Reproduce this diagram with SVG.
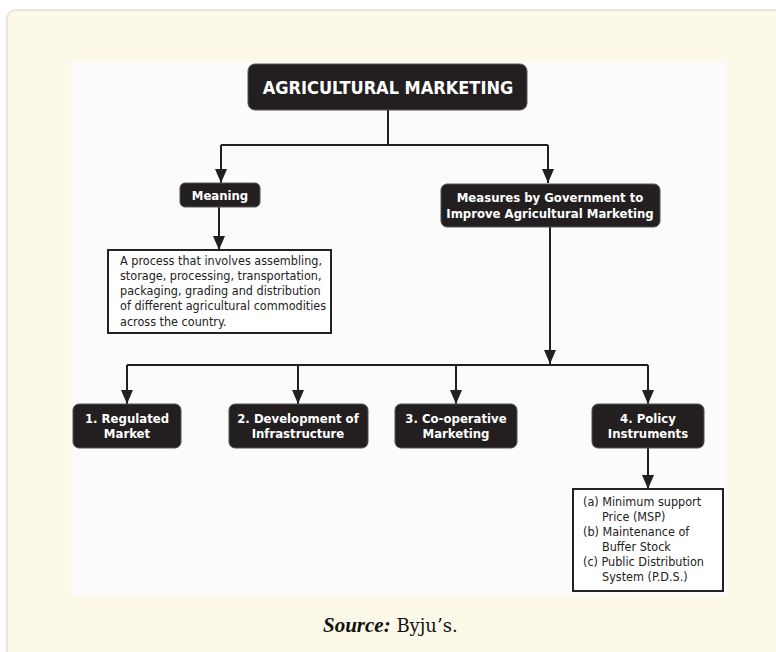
<svg xmlns="http://www.w3.org/2000/svg" width="776" height="652" viewBox="0 0 776 652">
<defs>
<style>
.node rect{fill:#231f20;stroke:#555;stroke-width:1}
.nt{font-family:"DejaVu Sans Condensed","DejaVu Sans",sans-serif;font-weight:bold;fill:#fff;text-anchor:middle}
.bt{font-family:"DejaVu Sans Condensed","DejaVu Sans",sans-serif;fill:#222;font-size:12.5px}
.box rect{fill:#fff;stroke:#222;stroke-width:2}
.conn path{fill:none;stroke:#231f20;stroke-width:2}
</style>
<marker id="ah" viewBox="0 0 14 12" refX="14" refY="6" markerWidth="14" markerHeight="12" markerUnits="userSpaceOnUse" orient="auto">
<path d="M0,0 L14,6 L0,12 z" fill="#231f20"/>
</marker>
</defs>
<rect x="7" y="10" width="800" height="680" rx="9" fill="#fdf9e8" stroke="#e8e6da" stroke-width="2"/>
<rect x="71" y="62" width="656" height="533" fill="#fbfbfb"/>
<g class="conn">
<path d="M388,110 V145 M221,145 H548"/>
<path d="M221,145 V183" marker-end="url(#ah)"/>
<path d="M548,145 V183" marker-end="url(#ah)"/>
<path d="M219,207 V250" marker-end="url(#ah)"/>
<path d="M550,227 V364" marker-end="url(#ah)"/>
<path d="M127,365 H648"/>
<path d="M127,365 V404" marker-end="url(#ah)"/>
<path d="M298,365 V404" marker-end="url(#ah)"/>
<path d="M456,365 V404" marker-end="url(#ah)"/>
<path d="M648,365 V404" marker-end="url(#ah)"/>
<path d="M648,448 V489" marker-end="url(#ah)"/>
</g>
<g id="title" class="node"><rect x="248" y="64" width="279" height="46" rx="7"/><text class="nt" x="388" y="94" font-size="18">AGRICULTURAL MARKETING</text></g>
<g id="meaning" class="node"><rect x="180" y="183" width="80" height="24" rx="5"/><text class="nt" x="220" y="200" font-size="13">Meaning</text></g>
<g id="measures" class="node"><rect x="441" y="184" width="219" height="43" rx="6"/><text class="nt" x="550" y="202" font-size="13">Measures by Government to</text><text class="nt" x="550" y="218" font-size="13">Improve Agricultural Marketing</text></g>
<g id="desc" class="box"><rect x="108" y="250" width="223" height="83"/>
<text class="bt" x="120" y="265">A process that involves assembling,</text>
<text class="bt" x="120" y="280">storage, processing, transportation,</text>
<text class="bt" x="120" y="295">packaging, grading and distribution</text>
<text class="bt" x="120" y="310">of different agricultural commodities</text>
<text class="bt" x="120" y="326">across the country.</text></g>
<g id="n1" class="node"><rect x="73" y="404" width="108" height="44" rx="6"/><text class="nt" x="127" y="423" font-size="13">1. Regulated</text><text class="nt" x="127" y="438" font-size="13">Market</text></g>
<g id="n2" class="node"><rect x="229" y="404" width="139" height="44" rx="6"/><text class="nt" x="298" y="423" font-size="13">2. Development of</text><text class="nt" x="298" y="438" font-size="13">Infrastructure</text></g>
<g id="n3" class="node"><rect x="395" y="404" width="122" height="44" rx="6"/><text class="nt" x="456" y="423" font-size="13">3. Co-operative</text><text class="nt" x="456" y="438" font-size="13">Marketing</text></g>
<g id="n4" class="node"><rect x="592" y="404" width="112" height="44" rx="6"/><text class="nt" x="648" y="423" font-size="13">4. Policy</text><text class="nt" x="648" y="438" font-size="13">Instruments</text></g>
<g id="policy" class="box"><rect x="573" y="489" width="150" height="102"/>
<text class="bt" x="583" y="506">(a) Minimum support</text>
<text class="bt" x="602" y="521">Price (MSP)</text>
<text class="bt" x="583" y="536">(b) Maintenance of</text>
<text class="bt" x="602" y="551">Buffer Stock</text>
<text class="bt" x="583" y="566">(c) Public Distribution</text>
<text class="bt" x="602" y="581">System (P.D.S.)</text></g>
<text x="323" y="632" font-family="'Liberation Serif',serif" font-size="21" fill="#111"><tspan font-weight="bold" font-style="italic">Source:</tspan><tspan font-family="'DejaVu Serif',serif" font-size="18"> Byju’s.</tspan></text>
</svg>
